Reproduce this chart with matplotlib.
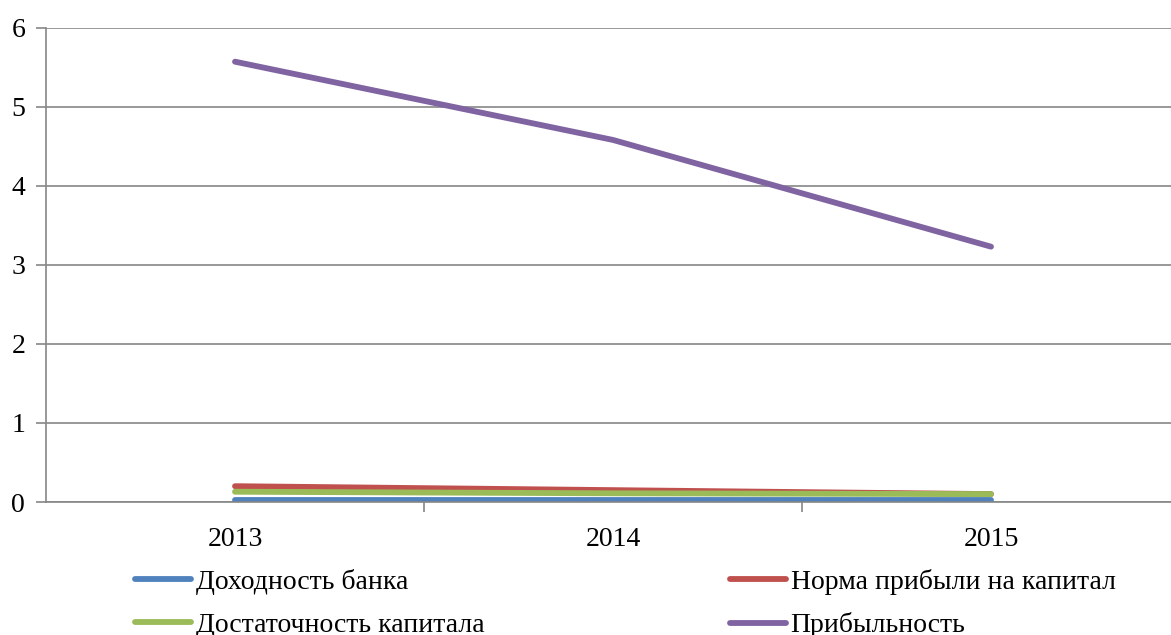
import matplotlib.pyplot as plt

plt.rcParams['font.family'] = ['Liberation Serif', 'DejaVu Serif']

years = ['2013', '2014', '2015']
dohodnost = [0.02, 0.02, 0.02]
norma = [0.20, 0.15, 0.10]
dostatochnost = [0.13, 0.11, 0.10]
pribylnost = [5.57, 4.58, 3.23]

fig = plt.figure(figsize=(11.71, 6.35), dpi=100)
ax = fig.add_axes([46 / 1171, 1 - 502 / 635, (1180 - 46) / 1171, (502 - 27.7) / 635])

x = range(len(years))
lw = 4.2
l1, = ax.plot(x, dohodnost, color='#4F81BD', lw=lw, solid_capstyle='round', label='Доходность банка')
l2, = ax.plot(x, norma, color='#C0504D', lw=lw, solid_capstyle='round', label='Норма прибыли на капитал')
l3, = ax.plot(x, dostatochnost, color='#9BBB59', lw=lw, solid_capstyle='round', label='Достаточность капитала')
l4, = ax.plot(x, pribylnost, color='#8064A2', lw=lw, solid_capstyle='round', label='Прибыльность')

ax.set_xlim(-0.5, 2.5)
ax.set_ylim(0, 6)
ax.set_yticks(range(7))
ax.set_xticks(list(x))
ax.set_xticklabels(years)
ax.set_xticks([0.5, 1.5], minor=True)
ax.tick_params(axis='x', which='major', length=0, pad=18, labelsize=20)
ax.tick_params(axis='x', which='minor', length=7, width=1.2, color='#868686')
ax.tick_params(axis='y', length=7, width=1.2, color='#868686', labelsize=20, pad=8)
ax.grid(axis='y', color='#868686', lw=1.2)
ax.set_axisbelow(True)
for s in ['top', 'right']:
    ax.spines[s].set_visible(False)
for s in ['left', 'bottom']:
    ax.spines[s].set_color('#868686')
    ax.spines[s].set_linewidth(1.2)

fig.legend(handles=[l1, l3, l2, l4], ncol=2, loc='upper left',
           bbox_to_anchor=(135 / 1171, 1 - 569 / 635), frameon=False,
           borderpad=0, borderaxespad=0,
           fontsize=20, handlelength=2.0, handletextpad=0.18,
           columnspacing=8.85, labelspacing=0.62)

fig.savefig('out.png', dpi=100)
